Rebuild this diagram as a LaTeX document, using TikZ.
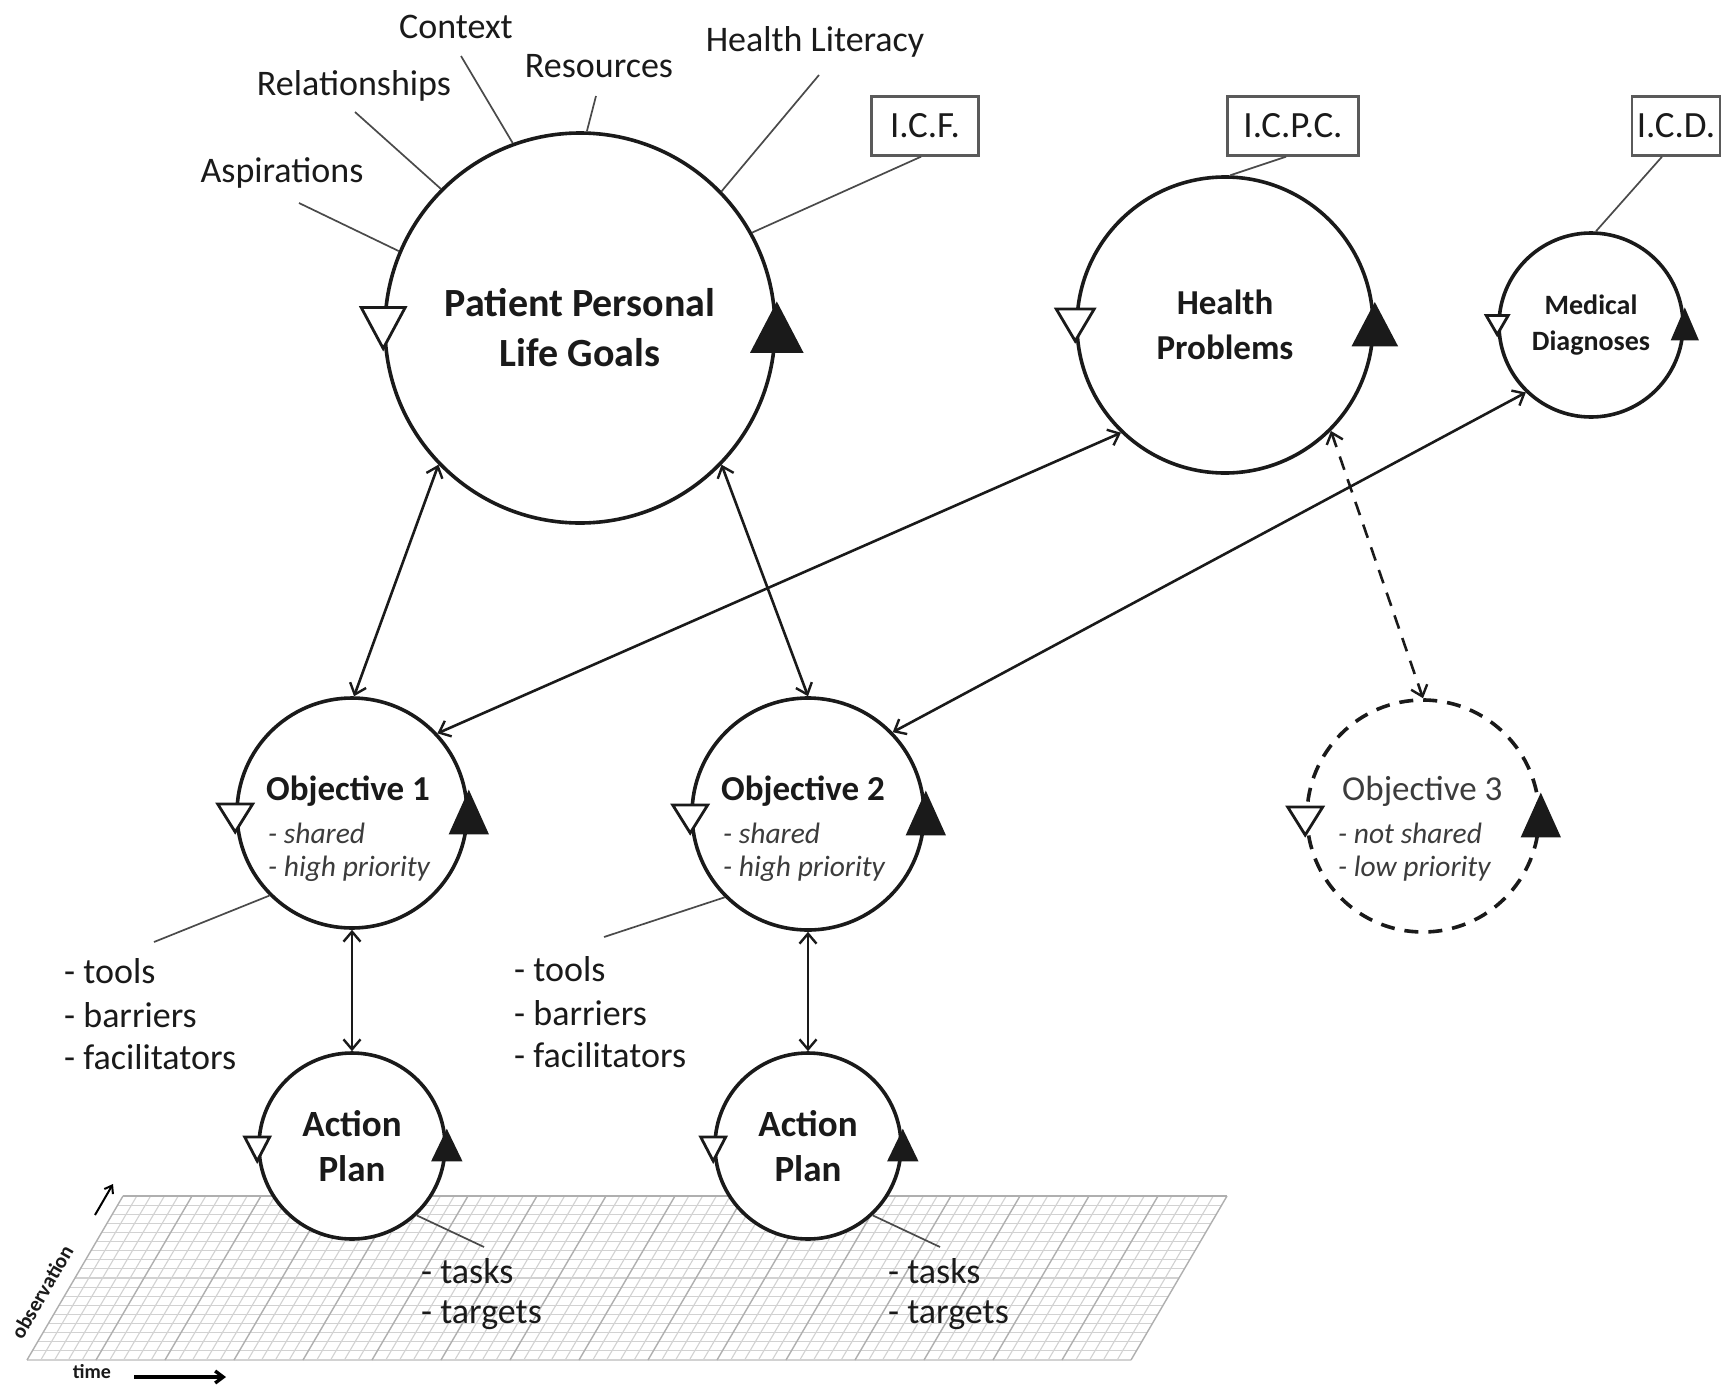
\documentclass[tikz,border=0pt]{standalone}
\usepackage{fontspec}
\setmainfont{Carlito}
\usetikzlibrary{arrows.meta,calc}

\definecolor{ink}{HTML}{1A1A1A}
\definecolor{leadergray}{HTML}{4A4A4A}
\definecolor{gridminor}{HTML}{D2D2D2}
\definecolor{gridmajor}{HTML}{AFAFAF}
\definecolor{boxgray}{HTML}{5A5A5A}

\tikzset{
  goal/.style={circle, draw=ink, line width=3.6pt, fill=white, inner sep=0pt,
               minimum size=#1, text=ink, align=center},
  trimark/.style={draw=ink, line width=2.8pt, line join=miter},
  leaderline/.style={draw=leadergray, line width=1.7pt},
  biarrow/.style={draw=ink, line width=2.6pt,
    {Straight Barb[length=10pt,width=17pt,line width=2.4pt]}-{Straight Barb[length=10pt,width=17pt,line width=2.4pt]}},
  lbl/.style={font=\fontsize{36}{40}\selectfont, text=ink, inner sep=0pt},
  codebox/.style={draw=boxgray, line width=2.4pt, fill=white, inner sep=0pt,
                  font=\fontsize{37}{40}\selectfont, text=ink, minimum height=59pt},
  objtitle/.style={font=\bfseries\fontsize{35}{38}\selectfont, text=ink, inner sep=0pt, anchor=west},
  objnote/.style={font=\itshape\fontsize{29.5}{32}\selectfont, text=ink!85, inner sep=0pt, anchor=west},
  gridfine/.style={draw=gridminor, line width=1.1pt},
  gridbold/.style={draw=gridmajor, line width=1.4pt},
}

% open triangle pointing down / filled triangle pointing up, centred on a named point
\newcommand\opentri[3]{\draw[trimark, fill=white]
  ([shift={(-#2/2,-#3/2)}]#1) -- ([shift={(#2/2,-#3/2)}]#1) -- ([shift={(0,#3/2)}]#1) -- cycle;}
\newcommand\filltri[3]{\draw[trimark, fill=ink]
  ([shift={(-#2/2,#3/2)}]#1) -- ([shift={(#2/2,#3/2)}]#1) -- ([shift={(0,-#3/2)}]#1) -- cycle;}

\begin{document}
\begin{tikzpicture}[x=1pt,y=-1pt]
\useasboundingbox[fill=white] (0,0) rectangle (1723,1392);

% ---------- observation / time plane ----------
\foreach \i in {0,...,18} {
  \draw[gridfine] ({123-\i*96/18},{1196+\i*164/18}) -- ++(1104,0);
}
\foreach \j in {0,...,80} {
  \pgfmathtruncatemacro\jm{mod(\j,5)}
  \ifnum\jm=0
    \draw[gridbold] ({123+\j*13.8},1196) -- ({27+\j*13.8},1360);
  \else
    \draw[gridfine] ({123+\j*13.8},1196) -- ({27+\j*13.8},1360);
  \fi
}
\draw[gridbold] (123,1196) -- (1227,1196);

\node[font=\bfseries\fontsize{21}{24}\selectfont, text=ink, rotate=60, inner sep=0pt] (obs) at (42,1292) {observation};
\coordinate (obsA) at (95,1215);
\coordinate (obsB) at (113,1184);
\draw[line width=2pt, -{Straight Barb[length=7pt,width=10pt]}] (obsA) -- (obsB);
\node[font=\bfseries\fontsize{20}{22}\selectfont, text=ink, inner sep=0pt] (tim) at (92,1372) {time};
\coordinate (timA) at (134,1377);
\coordinate (timB) at (226,1377);
\draw[line width=3.4pt, -{Straight Barb[length=8pt,width=12pt]}] (timA) -- (timB);

% ---------- circles ----------
\node[goal=390pt, font=\bfseries\fontsize{40}{50}\selectfont] (life) at (580,328) {Patient Personal\\Life Goals};
\node[goal=296pt, font=\bfseries\fontsize{35}{45}\selectfont] (hp) at (1225,325) {Health\\Problems};
\node[goal=184pt, font=\bfseries\fontsize{28}{36}\selectfont] (md) at (1591,325) {Medical\\Diagnoses};
\node[goal=230pt] (ob1) at (352,813) {};
\node[goal=232pt] (ob2) at (808,814) {};
\node[goal=232pt, dash pattern=on 14pt off 10pt] (ob3) at (1423,816) {};
\node[goal=186pt, font=\bfseries\fontsize{37}{45}\selectfont] (ap1) at (352,1146) {Action\\Plan};
\node[goal=186pt, font=\bfseries\fontsize{37}{45}\selectfont] (ap2) at (808,1146) {Action\\Plan};

% objective texts
\node[objtitle] (ob1t) at (266,791) {Objective 1};
\node[objnote] (ob1a) at (268,833) {- shared};
\node[objnote] (ob1b) at (268,869) {- high priority};
\node[objtitle] (ob2t) at (721,791) {Objective 2};
\node[objnote] (ob2a) at (723,833) {- shared};
\node[objnote] (ob2b) at (723,869) {- high priority};
\node[objtitle, font=\fontsize{35}{38}\selectfont, text=ink!85] (ob3t) at (1342,791) {Objective 3};
\node[objnote] (ob3a) at (1338,833) {- not shared};
\node[objnote] (ob3b) at (1338,869) {- low priority};

% ---------- cycle markers ----------
\coordinate (ob1w) at ([yshift=-5pt]ob1.west);
\coordinate (ob2w) at ([yshift=-5pt]ob2.west);
\coordinate (ob3w) at ([yshift=-5pt]ob3.west);
\coordinate (ap1w) at ([yshift=-3pt]ap1.west);
\coordinate (ap2w) at ([yshift=-3pt]ap2.west);
\opentri{life.west}{44}{41}
\filltri{life.east}{49}{47}
\opentri{hp.west}{38}{32}
\filltri{hp.east}{42}{40}
\opentri{md.west}{22}{19}
\filltri{md.east}{24}{28}
\opentri{ob1w}{35}{28}
\filltri{ob1.east}{36}{40}
\opentri{ob2w}{35}{28}
\filltri{ob2.east}{36}{40}
\opentri{ob3w}{35}{28}
\filltri{ob3.east}{36}{40}
\opentri{ap1w}{25}{24}
\filltri{ap1.east}{27}{28}
\opentri{ap2w}{25}{24}
\filltri{ap2.east}{27}{28}

% ---------- influences on life goals ----------
\node[lbl] (asp) at (282,173) {Aspirations};
\node[lbl] (rel) at (354,86) {Relationships};
\node[lbl] (ctx) at (456,27) {Context};
\node[lbl] (res) at (599,66) {Resources};
\node[lbl] (hlit) at (815,42) {Health Literacy};
\coordinate (aspE) at (299,203);
\coordinate (relE) at (355,112);
\coordinate (ctxE) at (461,56);
\coordinate (resE) at (596,96);
\coordinate (hlitE) at (819,75);
\draw[leaderline] (life.157) -- (aspE);
\draw[leaderline] (life.135) -- (relE);
\draw[leaderline] (life.110) -- (ctxE);
\draw[leaderline] (life.88) -- (resE);
\draw[leaderline] (life.44) -- (hlitE);

% ---------- classification boxes ----------
\node[codebox, minimum width=107pt] (icf) at (925,126) {I.C.F.};
\node[codebox, minimum width=131pt] (icpc) at (1293,126) {I.C.P.C.};
\node[codebox, minimum width=88pt] (icd) at (1676,126) {I.C.D.};
\draw[leaderline] (life.29) -- ([xshift=-4pt]icf.south);
\draw[leaderline] (hp.88) -- ([xshift=-7pt]icpc.south);
\draw[leaderline] (md.87) -- ([xshift=-14pt]icd.south);

% ---------- links ----------
\draw[biarrow] (life.224) -- (ob1.89);
\draw[biarrow] (life.316) -- (ob2.90);
\draw[biarrow] (hp.226) -- (ob1.43);
\draw[biarrow] (md.226) -- (ob2.44);
\draw[biarrow, dash pattern=on 14pt off 10pt] (hp.315) -- (ob3.90);
\draw[biarrow] (ob1.270) -- (ap1.90);
\draw[biarrow] (ob2.270) -- (ap2.90);

% ---------- means and actions ----------
\coordinate (tool1E) at (154,942);
\coordinate (tool2E) at (604,937);
\draw[leaderline] (ob1.225) -- (tool1E);
\draw[leaderline] (ob2.225) -- (tool2E);
\node[lbl, anchor=west] (t1a) at (64,971) {- tools};
\node[lbl, anchor=west] (t1b) at (64,1015) {- barriers};
\node[lbl, anchor=west] (t1c) at (64,1057) {- facilitators};
\node[lbl, anchor=west] (t2a) at (514,969) {- tools};
\node[lbl, anchor=west] (t2b) at (514,1013) {- barriers};
\node[lbl, anchor=west] (t2c) at (514,1055) {- facilitators};

\coordinate (task1E) at (484,1247);
\coordinate (task2E) at (940,1247);
\draw[leaderline] (ap1.313) -- (task1E);
\draw[leaderline] (ap2.313) -- (task2E);
\node[lbl, anchor=west] (k1a) at (421,1271) {- tasks};
\node[lbl, anchor=west] (k1b) at (421,1315) {- targets};
\node[lbl, anchor=west] (k2a) at (888,1271) {- tasks};
\node[lbl, anchor=west] (k2b) at (888,1315) {- targets};
\end{tikzpicture}
\end{document}
